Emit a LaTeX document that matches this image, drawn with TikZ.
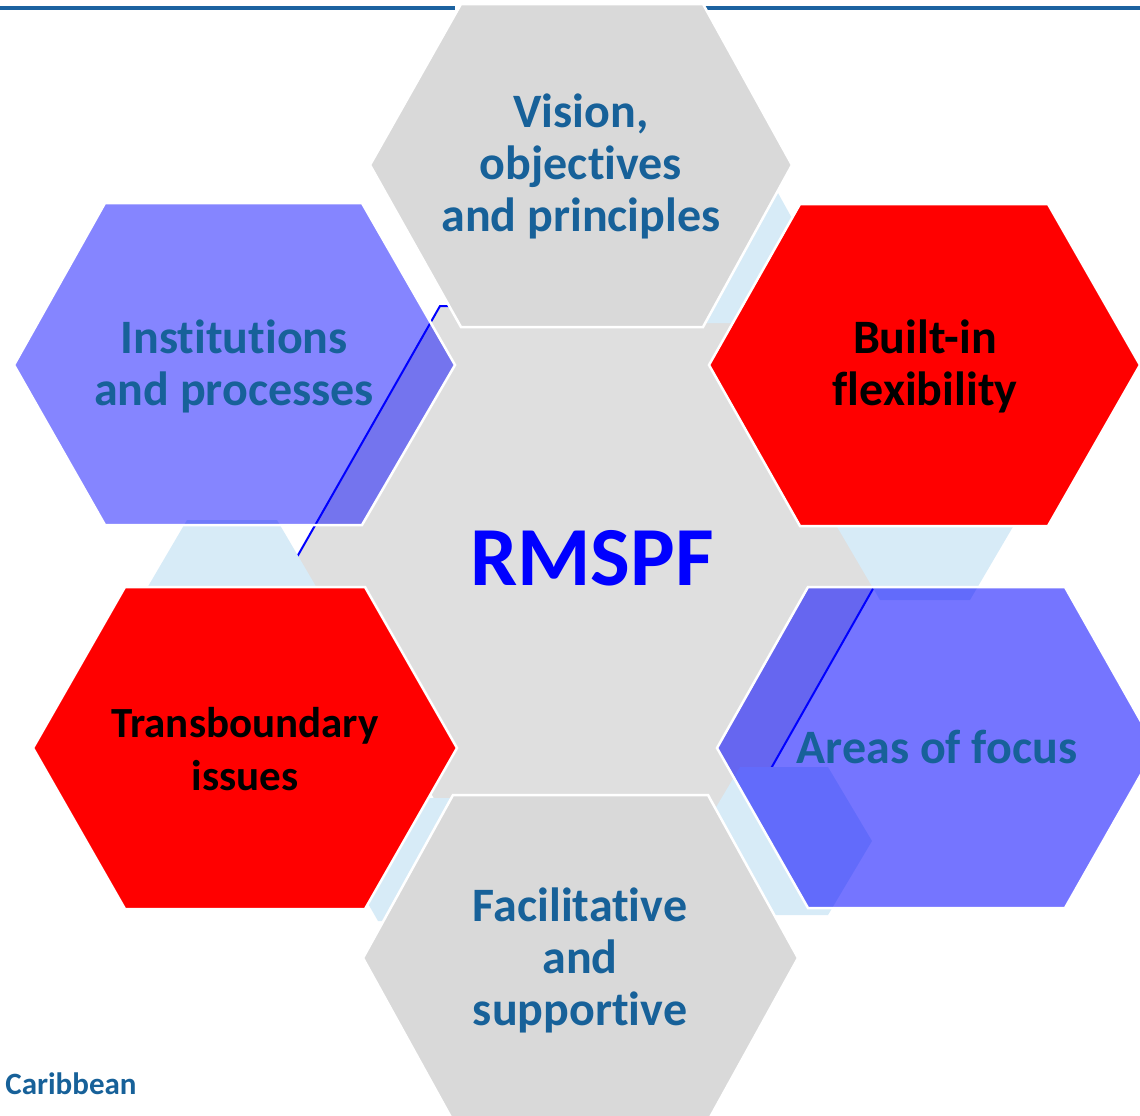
\documentclass[tikz,border=0pt]{standalone}
\usepackage{fontspec}
\setmainfont{Carlito}[Ligatures=NoCommon]
\definecolor{centralgray}{HTML}{DFDFDF}
\definecolor{hexgray}{HTML}{D9D9D9}
\definecolor{lightblue}{HTML}{D7EBF7}
\definecolor{hexred}{HTML}{FF0000}
\definecolor{labelblue}{HTML}{176199}
\definecolor{ruleblue}{HTML}{1C62A0}
\tikzset{
  outerhex/.style={line width=1.25pt, draw=white, line join=miter},
  grayhex/.style={outerhex, fill=hexgray},
  redhex/.style={outerhex, fill=hexred},
  bluehex/.style={outerhex, fill=blue, fill opacity=#1},
  smallhex/.style={fill=lightblue},
  lbl/.style={align=center, inner sep=0pt, font=\fontsize{24pt}{26pt}\selectfont\bfseries, text=labelblue},
  blacklbl/.style={lbl, text=black},
}
\begin{document}
\begin{tikzpicture}[x=0.5pt,y=-0.5pt]
\useasboundingbox (0,0) rectangle (1140,1115);
\clip (0,0) rectangle (1140,1115);
% top rule
\draw[ruleblue, line width=1.6pt] (0,8) -- (455,8);
\draw[ruleblue, line width=1.6pt] (705,8) -- (1140,8);
% central hexagon
\fill[centralgray]
  (440,306) -- (748,306) -- (891,557) -- (748,809) -- (440,809) -- (297,557) -- cycle;
\draw[blue, line width=1pt, line join=miter]
  (297,557) -- (440,306) -- (748,306) -- (891,557) -- (748,809) -- (440,809);
% small light-blue hexagons
\fill[smallhex] (187,520) -- (277,520) -- (321,595) -- (277,670) -- (187,670) -- (143,595) -- cycle;
\fill[smallhex] (880,450) -- (970,450) -- (1014,525) -- (970,600) -- (880,600) -- (836,525) -- cycle;
\fill[smallhex] (740,767) -- (828,767) -- (872,841) -- (828,915) -- (740,915) -- (696,841) -- cycle;
\fill[smallhex] (378,798) -- (470,798) -- (505,860) -- (470,921) -- (378,921) -- (343,860) -- cycle;
\fill[smallhex] (690,193) -- (778,193) -- (814,258) -- (778,323) -- (690,323) -- (654,258) -- cycle;
% outer hexagons
\draw[grayhex] (461,4) -- (703,4) -- (792,165) -- (703,327) -- (461,327) -- (370,165) -- cycle;
\draw[grayhex] (453,795) -- (708,795) -- (798,958) -- (708,1121) -- (453,1121) -- (363,958) -- cycle;
\draw[redhex] (800,204) -- (1048,204) -- (1140,365) -- (1048,526) -- (800,526) -- (709,365) -- cycle;
\draw[redhex] (125,587) -- (365,587) -- (457,748) -- (365,909) -- (125,909) -- (33,748) -- cycle;
\draw[bluehex=0.48] (105,203) -- (362,203) -- (455,365) -- (362,525) -- (105,525) -- (14,365) -- cycle;
\draw[bluehex=0.54] (808,587) -- (1065,587) -- (1156,748) -- (1065,908) -- (808,908) -- (717,748) -- cycle;
% labels
\node[lbl] (vision) at (581,166) {Vision,\\objectives\\and principles};
\node[lbl] (inst) at (234,366) {Institutions\\and processes};
\node[blacklbl] (built) at (925,366) {Built-in\\flexibility};
\node[blacklbl, font=\fontsize{21.5pt}{26.5pt}\selectfont\bfseries] (trans) at (245,749) {Transboundary\\issues};
\node[lbl] (areas) at (937,747) {Areas of focus};
\node[lbl] (facil) at (580,960) {Facilitative\\and\\supportive};
\node[inner sep=0pt, font=\fontsize{42pt}{44pt}\selectfont\bfseries, text=blue] (rmspf) at (592,558) {RMSPF};
\node[anchor=base west, inner sep=0pt, font=\fontsize{15.5pt}{18pt}\selectfont\bfseries, text=labelblue] (carib) at (5,1094) {Caribbean};
\end{tikzpicture}
\end{document}
